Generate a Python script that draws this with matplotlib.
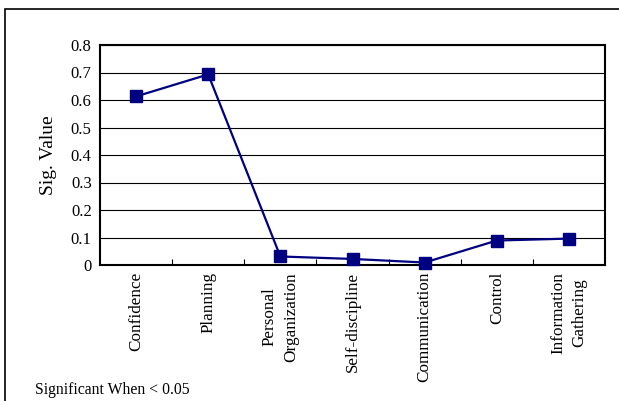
import matplotlib.pyplot as plt
from matplotlib.patches import Rectangle

categories = ["Confidence", "Planning", "Personal\nOrganization", "Self-discipline",
              "Communication", "Control", "Information\nGathering"]
sig_values = [0.613, 0.693, 0.031, 0.022, 0.009, 0.089, 0.096]
y_ticks = [0, 0.1, 0.2, 0.3, 0.4, 0.5, 0.6, 0.7, 0.8]
y_labels = ["0", "0.1", "0.2", "0.3", "0.4", "0.5", "0.6", "0.7", "0.8"]

plt.rcParams["font.family"] = ["Liberation Serif", "DejaVu Serif"]

W, H = 619, 401
fig = plt.figure(figsize=(W / 100, H / 100), dpi=100)
ax = fig.add_axes([100 / W, 1 - 265 / H, 505 / W, 220 / H])

# outer chart frame
fig.patches.append(Rectangle((5 / W, -0.1), 1.2, 1 - 9 / H + 0.1, transform=fig.transFigure,
                             fill=False, edgecolor="black", linewidth=1.2))

x = list(range(len(categories)))
ax.plot(x, sig_values, color="#000080", linewidth=1.6, marker="s", markersize=8.5,
        markerfacecolor="#000080", markeredgecolor="#000080", zorder=3, clip_on=False)

ax.set_xlim(-0.5, len(categories) - 0.5)
ax.set_ylim(0, 0.8)
ax.set_yticks(y_ticks)
ax.set_yticklabels(y_labels, fontsize=12)
ax.yaxis.grid(True, color="black", linewidth=0.8)
ax.set_axisbelow(True)
ax.tick_params(axis="y", length=0, pad=6)

# ticks between categories, labels at category centers
ax.set_xticks([i + 0.5 for i in x[:-1]])
ax.set_xticklabels([])
ax.tick_params(axis="x", direction="in", length=4, width=0.8)
for i, c in enumerate(categories):
    ax.text(i, -0.025, c, rotation=90, ha="center", va="top", multialignment="center",
            fontsize=12.3, linespacing=1.45)

for s in ax.spines.values():
    s.set_linewidth(1.5)

ax.set_ylabel("Sig. Value", fontsize=14, labelpad=10)

fig.text(35 / W, 1 - 390 / H, "Significant When < 0.05", fontsize=11.3, va="center", ha="left")

fig.savefig("out.png", dpi=100)
